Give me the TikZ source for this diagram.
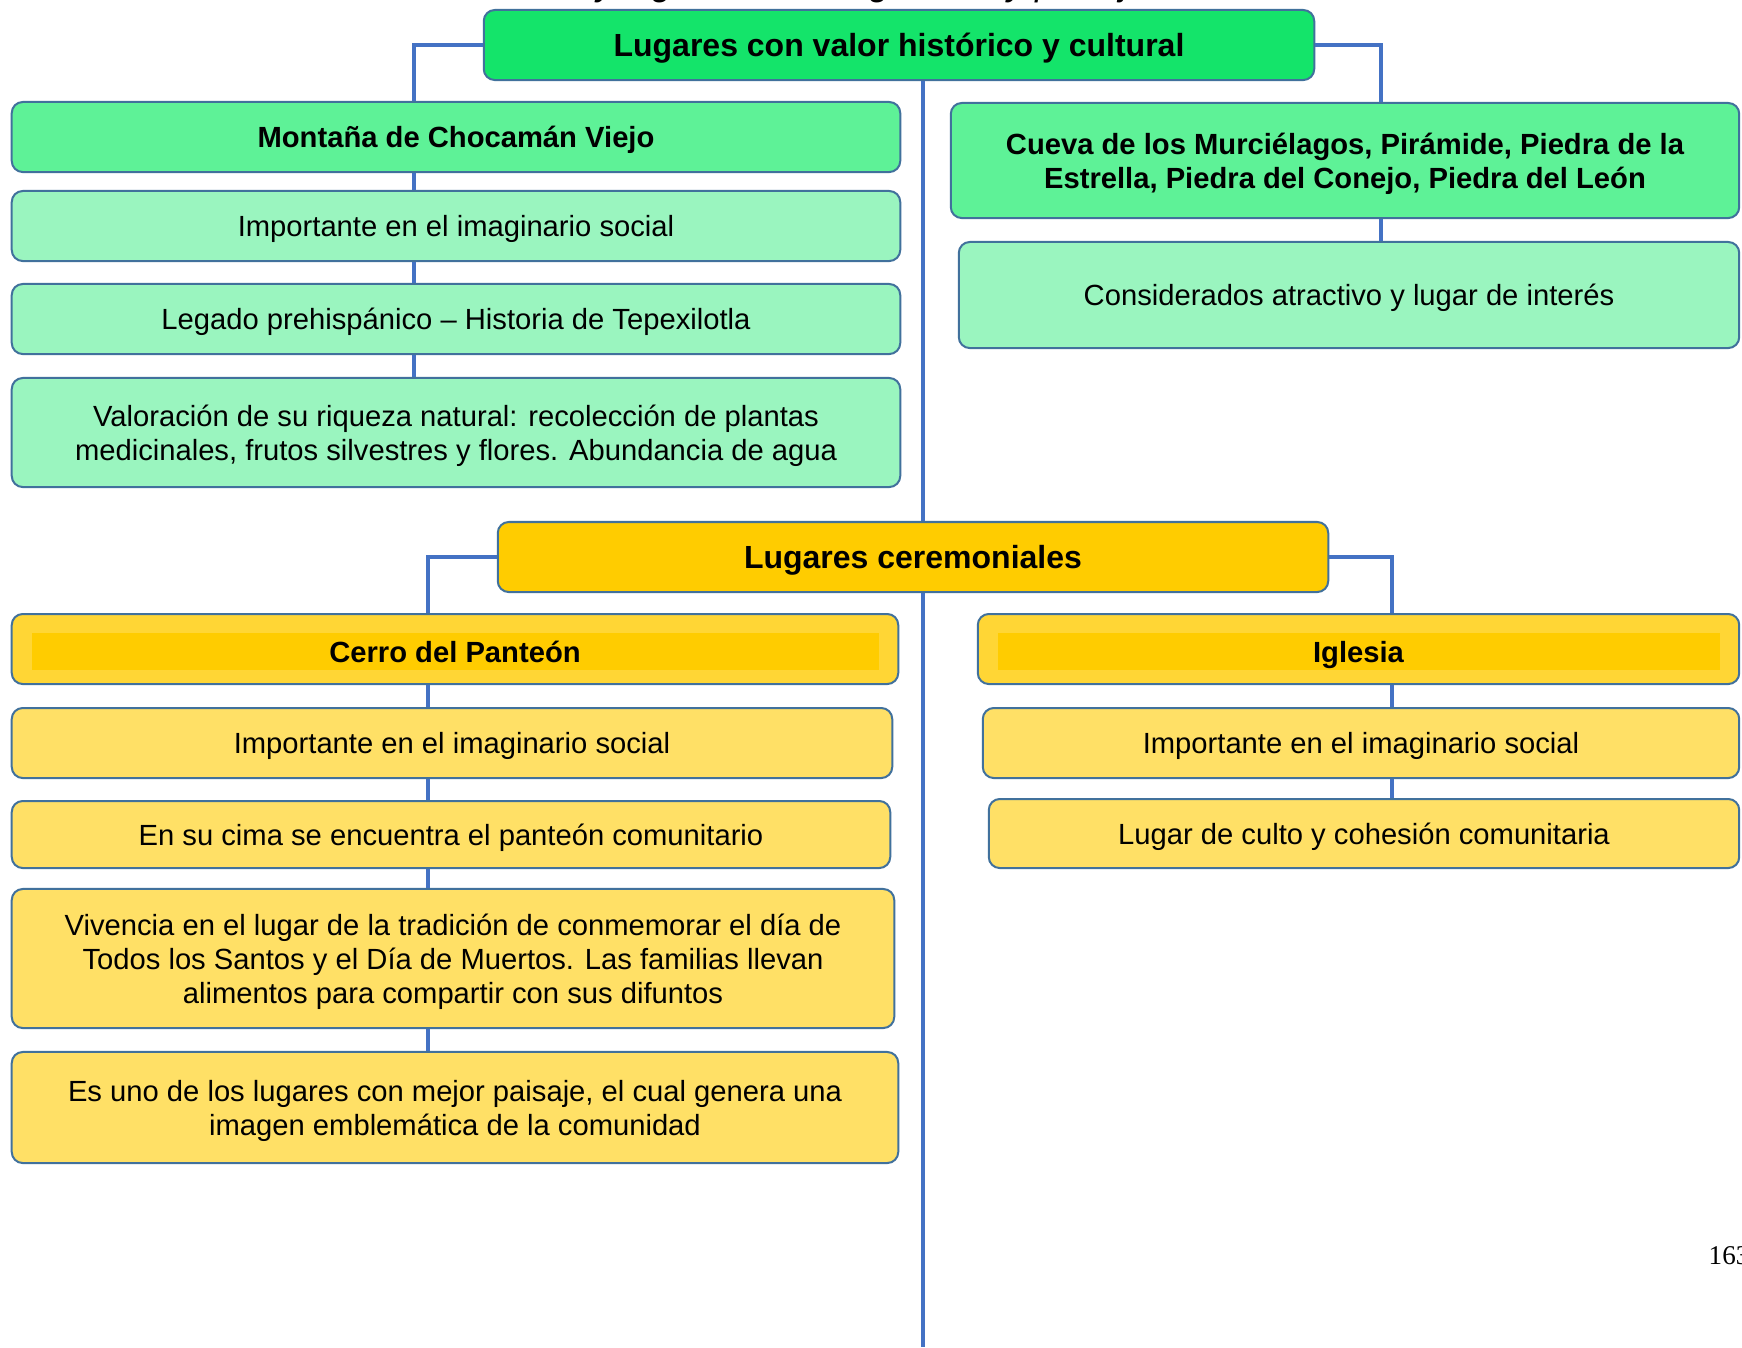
\documentclass[tikz,border=0pt]{standalone}
\usepackage{fontspec}
\setmainfont{Liberation Sans}
\newfontfamily\pagefont{Liberation Serif}

\definecolor{greenA}{HTML}{14E46A}
\definecolor{greenB}{HTML}{5EF297}
\definecolor{greenC}{HTML}{9AF5BF}
\definecolor{yellowA}{HTML}{FFCC00}
\definecolor{yellowB}{HTML}{FFD635}
\definecolor{yellowC}{HTML}{FFE066}
\definecolor{boxline}{HTML}{41719C}
\definecolor{connline}{HTML}{4472C4}

\tikzset{
  box/.style={draw=boxline, line width=0.02cm, rounded corners=0.11cm, align=center, inner sep=0pt,
    font=\fontsize{8.3}{9.7}\selectfont, execute at begin node={\vrule height 0.275cm width 0pt}},
  headbox/.style={box, font=\fontsize{9.1}{10.5}\selectfont\bfseries,
    execute at begin node={\vrule height 0.3cm width 0pt}},
  subbox/.style={box, font=\fontsize{8.3}{9.7}\selectfont\bfseries},
  multibox/.style={text depth=0pt},
  bandbox/.style={subbox, text depth=0pt, path picture={
      \fill[yellowA, sharp corners] ([shift={(0.2cm,-0.19cm)}]path picture bounding box.north west)
        rectangle ([shift={(-0.19cm,0.14cm)}]path picture bounding box.south east);}},
  conn/.style={draw=connline, line width=0.035cm}
}

\begin{document}
\begin{tikzpicture}[x=0.01cm,y=-0.01cm]
\useasboundingbox[fill=white] (0,0) rectangle (1742,1347);

% title line cut at the top of the page
\node (caption) [anchor=base west, inner sep=0pt, font=\fontsize{10.2}{12}\selectfont\itshape] at (596,-5) {y lugares con carga ritual y paisaje};

% historical and cultural places
\node (hist) [headbox, fill=greenA, minimum width=8.3cm, minimum height=0.7cm] at (899,45) {Lugares con valor histórico y cultural};

\node (mont) [subbox, fill=greenB, minimum width=8.88cm, minimum height=0.7cm] at (456,137) {Montaña de Chocamán Viejo};
\node (imagA) [box, fill=greenC, minimum width=8.88cm, minimum height=0.7cm] at (456,226) {Importante en el imaginario social};
\node (legado) [box, fill=greenC, minimum width=8.88cm, minimum height=0.7cm] at (456,319) {Legado prehispánico – Historia de Tepexilotla};
\node (valor) [box, multibox, fill=greenC, minimum width=8.88cm, minimum height=1.09cm] at (456,432.5) {Valoración de su riqueza natural: recolección de plantas\\medicinales, frutos silvestres y flores. Abundancia de agua};

\node (cueva) [subbox, multibox, fill=greenB, minimum width=7.88cm, minimum height=1.15cm] at (1345,160.5) {Cueva de los Murciélagos, Pirámide, Piedra de la\\Estrella, Piedra del Conejo, Piedra del León};
\node (consid) [box, fill=greenC, minimum width=7.8cm, minimum height=1.06cm] at (1349,295) {Considerados atractivo y lugar de interés};

% ceremonial places
\node (cerem) [headbox, fill=yellowA, minimum width=8.3cm, minimum height=0.7cm] at (913,557) {Lugares ceremoniales};

\node (cerro) [bandbox, fill=yellowB, minimum width=8.86cm, minimum height=0.7cm] at (455,649) {Cerro del Panteón};
\node (imagY) [box, fill=yellowC, minimum width=8.8cm, minimum height=0.7cm] at (452,743) {Importante en el imaginario social};
\node (cima) [box, fill=yellowC, minimum width=8.78cm, minimum height=0.67cm] at (451,834.5) {En su cima se encuentra el panteón comunitario};
\node (vivencia) [box, multibox, fill=yellowC, minimum width=8.82cm, minimum height=1.39cm] at (453,958.5) {Vivencia en el lugar de la tradición de conmemorar el día de\\Todos los Santos y el Día de Muertos. Las familias llevan\\alimentos para compartir con sus difuntos};
\node (paisaje) [box, multibox, fill=yellowC, minimum width=8.86cm, minimum height=1.11cm] at (455,1107.5) {Es uno de los lugares con mejor paisaje, el cual genera una\\imagen emblemática de la comunidad};

\node (iglesia) [bandbox, fill=yellowB, minimum width=7.61cm, minimum height=0.7cm] at (1358.5,649) {Iglesia};
\node (imagI) [box, fill=yellowC, minimum width=7.56cm, minimum height=0.7cm] at (1361,743) {Importante en el imaginario social};
\node (culto) [box, fill=yellowC, minimum width=7.5cm, minimum height=0.69cm] at (1364,833.5) {Lugar de culto y cohesión comunitaria};

% page number
\node (pagenum) [anchor=base west, inner sep=0pt, font=\pagefont\fontsize{7.7}{9}\selectfont] at (1708,1264) {163};

% connector columns
\coordinate (colC) at (923,0);
\coordinate (colL) at (414,0);
\coordinate (colR) at (1381,0);
\coordinate (colLL) at (428,0);
\coordinate (colRR) at (1392,0);
\coordinate (pageEnd) at (923,1347);

\draw[conn] (colC |- hist.south) -- (colC |- cerem.north);
\draw[conn] (colC |- cerem.south) -- (pageEnd);

\draw[conn] (hist.west) -| (colL |- mont.north);
\draw[conn] (hist.east) -| (colR |- cueva.north);
\draw[conn] (cerem.west) -| (colLL |- cerro.north);
\draw[conn] (cerem.east) -| (colRR |- iglesia.north);

\foreach \a/\b in {mont/imagA, imagA/legado, legado/valor}
  \draw[conn] (colL |- \a.south) -- (colL |- \b.north);
\draw[conn] (colR |- cueva.south) -- (colR |- consid.north);
\foreach \a/\b in {cerro/imagY, imagY/cima, cima/vivencia, vivencia/paisaje}
  \draw[conn] (colLL |- \a.south) -- (colLL |- \b.north);
\foreach \a/\b in {iglesia/imagI, imagI/culto}
  \draw[conn] (colRR |- \a.south) -- (colRR |- \b.north);

\end{tikzpicture}
\end{document}
